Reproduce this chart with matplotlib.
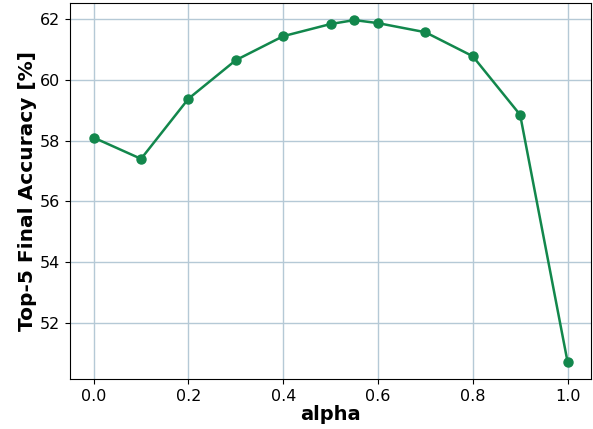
import matplotlib
matplotlib.use('Agg')
import matplotlib.pyplot as plt

alpha = [0.0, 0.1, 0.2, 0.3, 0.4, 0.5, 0.55, 0.6, 0.7, 0.8, 0.9, 1.0]
top5_acc = [58.10, 57.40, 59.38, 60.65, 61.44, 61.84, 61.97, 61.87, 61.57, 60.78, 58.85, 50.72]

fig = plt.figure(figsize=(5.93, 4.29), dpi=100)
ax = fig.add_subplot(111)

ax.plot(alpha, top5_acc, marker='o', ms=6.5, lw=1.8, color='#12874c')
ax.grid(True, color='#b5c9d6', lw=1.0)
ax.set_axisbelow(True)

ax.set_xlabel('alpha', fontsize=14, fontweight='bold', labelpad=1)
ax.set_ylabel('Top-5 Final Accuracy [%]', fontsize=14.5, fontweight='bold', labelpad=2)
ax.tick_params(labelsize=11.5)

fig.subplots_adjust(left=0.118, right=0.997, top=0.993, bottom=0.117)
fig.savefig('out.png', dpi=100)
